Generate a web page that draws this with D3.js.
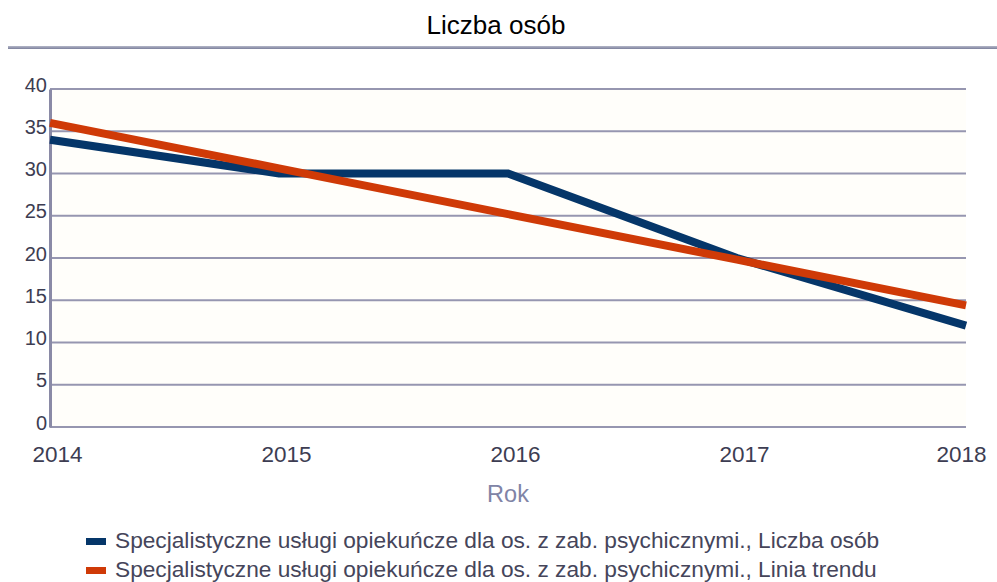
<!DOCTYPE html>
<html><head><meta charset="utf-8">
<script src="https://cdn.jsdelivr.net/npm/d3@7"></script>
<style>body{margin:0;background:#fff;} svg{display:block;font-family:"Liberation Sans",Arial,sans-serif;}</style>
</head><body>
<svg id="chart" width="997" height="582"></svg>
<script>
const years = [2014, 2015, 2016, 2017, 2018];
const liczbaOsob = [34, 30, 30, 20, 12];
const liniaTrendu = [36, 30.6, 25.2, 19.8, 14.4];
const yTicks = [0, 5, 10, 15, 20, 25, 30, 35, 40];
const title = "Liczba osób";
const xTitle = "Rok";
const seriesNames = [
  "Specjalistyczne usługi opiekuńcze dla os. z zab. psychicznymi., Liczba osób",
  "Specjalistyczne usługi opiekuńcze dla os. z zab. psychicznymi., Linia trendu"
];
const colors = ["#053669", "#cf3a07"];

const svg = d3.select("#chart");
const W = 997, H = 582;
const m = {left: 50, right: 31, top: 89, bottom: 155};
const x = d3.scaleLinear().domain([2014, 2018]).range([m.left, W - m.right]);
const y = d3.scaleLinear().domain([0, 40]).range([H - m.bottom, m.top]);

// title
svg.append("text").attr("x", 496).attr("y", 34).attr("text-anchor", "middle")
  .attr("font-size", 26).attr("fill", "#000").text(title);
// title rule
const grad = svg.append("defs").append("linearGradient").attr("id","rule").attr("x1",0).attr("x2",0).attr("y1",0).attr("y2",1);
grad.append("stop").attr("offset","0%").attr("stop-color","#b4b7c8");
grad.append("stop").attr("offset","100%").attr("stop-color","#7c809c");
svg.append("rect").attr("x", 8).attr("y", 46).attr("width", W - 8).attr("height", 3).attr("fill", "url(#rule)");

// plot background
svg.append("rect").attr("x", m.left).attr("y", m.top).attr("width", W - m.left - m.right)
  .attr("height", H - m.top - m.bottom).attr("fill", "#fffefa");

// grid
svg.append("g").selectAll("line").data(yTicks).join("line")
  .attr("x1", m.left).attr("x2", W - m.right)
  .attr("y1", d => y(d)).attr("y2", d => y(d))
  .attr("stroke", "#9696b0").attr("stroke-width", 2);

// y axis
const yAxis = svg.append("g").attr("transform", `translate(${m.left},0)`)
  .call(d3.axisLeft(y).tickValues(yTicks).tickSize(0).tickPadding(3));
yAxis.select(".domain").attr("stroke", "#8a8aa6").attr("stroke-width", 3);
yAxis.selectAll("text").attr("font-size", 20).attr("fill", "#3d3d52").attr("font-family", "Liberation Sans, Arial, sans-serif").attr("dy", "0.1em");

// x axis labels
const xAxis = svg.append("g").attr("transform", `translate(0,${H - m.bottom})`)
  .call(d3.axisBottom(x).tickValues(years).tickFormat(d3.format("d")).tickSize(0).tickPadding(0));
xAxis.select(".domain").remove();
xAxis.selectAll("text").attr("font-size", 22.5).attr("fill", "#3d3d52").attr("font-family", "Liberation Sans, Arial, sans-serif")
  .attr("y", 35).attr("dy", 0)
  .attr("dx", (d, i) => i === years.length - 1 ? -5 : 7);

svg.append("text").attr("x", (m.left + W - m.right) / 2).attr("y", 502).attr("text-anchor", "middle")
  .attr("font-size", 23.5).attr("fill", "#8084a6").text(xTitle);

// lines
const line = d3.line().x((d, i) => x(years[i])).y(d => y(d));
svg.append("path").datum(liczbaOsob).attr("d", line).attr("fill", "none")
  .attr("stroke", colors[0]).attr("stroke-width", 8);
svg.append("path").datum(liniaTrendu).attr("d", line).attr("fill", "none")
  .attr("stroke", colors[1]).attr("stroke-width", 8);

// legend
const leg = svg.append("g");
seriesNames.forEach((n, i) => {
  const ly = 548 + i * 29;
  leg.append("rect").attr("x", 86).attr("y", ly - 10).attr("width", 20).attr("height", 7).attr("fill", colors[i]);
  leg.append("text").attr("x", 115).attr("y", ly).attr("font-size", 22.7).attr("fill", "#45455a").text(n);
});
</script>
</body></html>
